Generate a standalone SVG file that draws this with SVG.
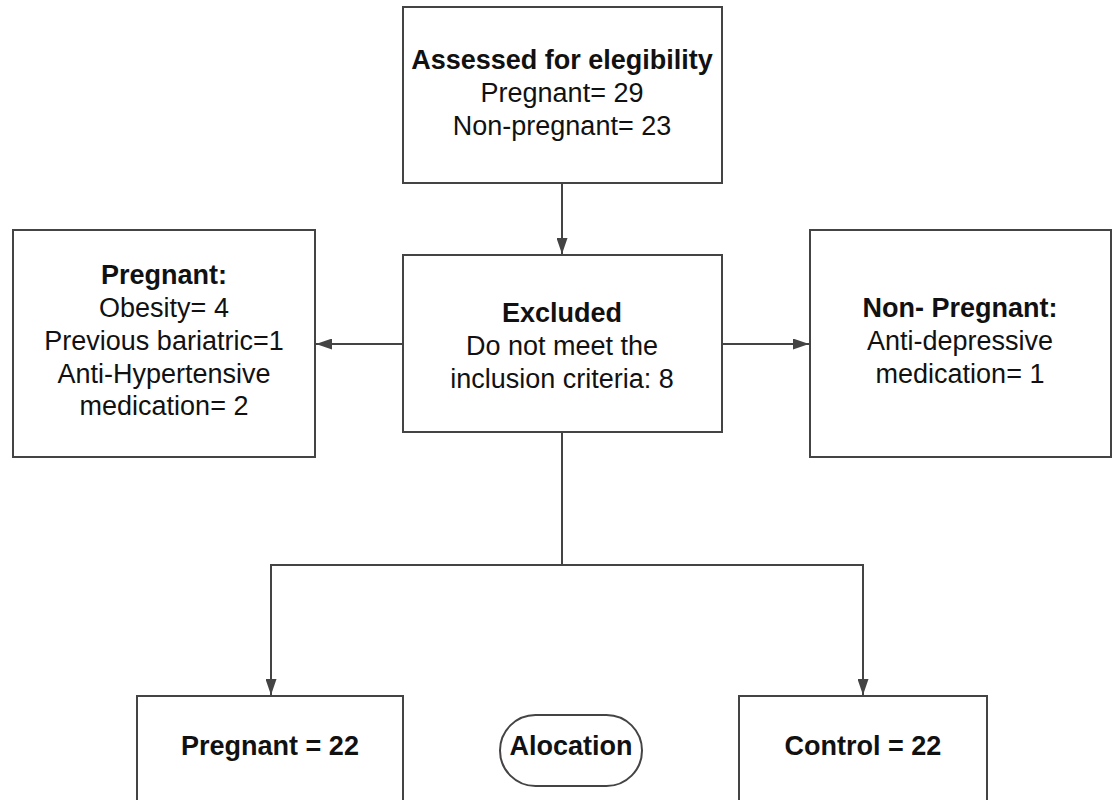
<svg xmlns="http://www.w3.org/2000/svg" width="1114" height="800" viewBox="0 0 1114 800">
<style>
.box{fill:#fff;stroke:#444;stroke-width:2}
.t{font-family:"Liberation Sans",Arial,sans-serif;font-size:27px;fill:#111;text-anchor:middle}
.b{font-weight:bold}
.c{fill:none;stroke:#444;stroke-width:2}
</style>
<defs>
<marker id="ah" markerUnits="userSpaceOnUse" markerWidth="17" markerHeight="11" refX="16" refY="5.5" orient="auto">
<path d="M0,0 L16,5.5 L0,11 Z" fill="#444"/>
</marker>
</defs>
<rect width="1114" height="800" fill="#fff"/>
<g id="connectors">
<line class="c" x1="562" y1="183" x2="562" y2="254" marker-end="url(#ah)"/>
<line class="c" x1="403" y1="344" x2="316" y2="344" marker-end="url(#ah)"/>
<line class="c" x1="722" y1="344" x2="809" y2="344" marker-end="url(#ah)"/>
<polyline class="c" points="562,432 562,565"/>
<polyline class="c" points="562,565 271,565 271,695" marker-end="url(#ah)"/>
<polyline class="c" points="562,565 863,565 863,695" marker-end="url(#ah)"/>
</g>
<g id="assessed">
<rect class="box" x="403" y="7" width="319" height="176"/>
<text class="t b" x="562" y="69">Assessed for elegibility</text>
<text class="t" x="562" y="102">Pregnant= 29</text>
<text class="t" x="562" y="135">Non-pregnant= 23</text>
</g>
<g id="excluded">
<rect class="box" x="403" y="255" width="319" height="177"/>
<text class="t b" x="562" y="322">Excluded</text>
<text class="t" x="562" y="355">Do not meet the</text>
<text class="t" x="562" y="388">inclusion criteria: 8</text>
</g>
<g id="pregnant-excluded">
<rect class="box" x="13" y="230" width="302" height="227"/>
<text class="t b" x="164" y="284">Pregnant:</text>
<text class="t" x="164" y="317">Obesity= 4</text>
<text class="t" x="164" y="350">Previous bariatric=1</text>
<text class="t" x="164" y="383">Anti-Hypertensive</text>
<text class="t" x="164" y="415">medication= 2</text>
</g>
<g id="nonpregnant-excluded">
<rect class="box" x="810" y="230" width="301" height="227"/>
<text class="t b" x="960" y="317">Non- Pregnant:</text>
<text class="t" x="960" y="350">Anti-depressive</text>
<text class="t" x="960" y="383">medication= 1</text>
</g>
<g id="pregnant-group">
<rect class="box" x="137" y="696" width="266" height="120"/>
<text class="t b" x="270" y="755">Pregnant = 22</text>
</g>
<g id="allocation">
<rect class="box" x="500" y="715" width="142" height="71" rx="35.5" ry="35.5"/>
<text class="t b" x="571" y="755">Alocation</text>
</g>
<g id="control-group">
<rect class="box" x="739" y="696" width="248" height="120"/>
<text class="t b" x="863" y="755">Control = 22</text>
</g>
</svg>
